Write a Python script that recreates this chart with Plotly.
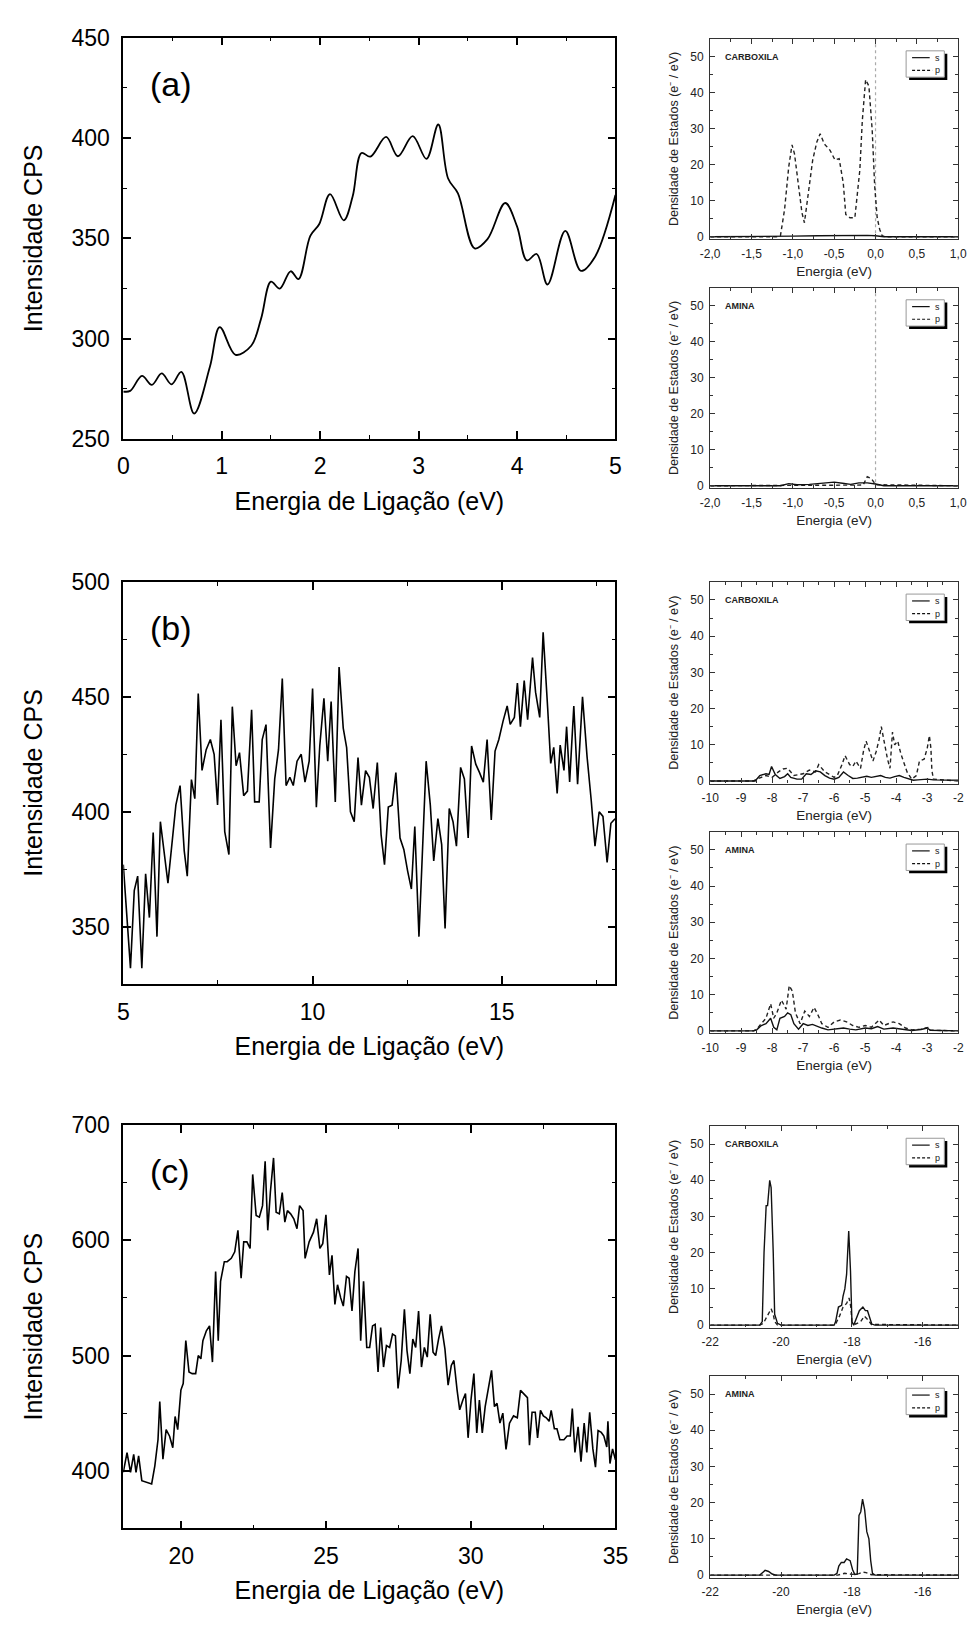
import numpy as np
import plotly.graph_objects as go

# ---------------- data: left panels (XPS intensity) ----------------
A_X = [0.0, 0.07, 0.19, 0.29, 0.39, 0.49, 0.59, 0.72, 0.88, 0.98, 1.14, 1.30, 1.40, 1.50, 1.59, 1.70,
       1.78, 1.90, 1.99, 2.10, 2.24, 2.33, 2.42, 2.51, 2.67, 2.79, 2.94, 3.08, 3.20, 3.30, 3.40, 3.57,
       3.70, 3.88, 4.00, 4.10, 4.20, 4.31, 4.49, 4.65, 4.79, 5.0]
A_Y = [273.7, 274, 281.5, 277, 282.7, 277.3, 283.5, 262.7, 286, 305.8, 292, 296.5, 310, 328.4, 325, 333.6,
       329.7, 351.2, 357, 372, 359, 370.8, 392.5, 390.7, 400.5, 390.9, 400.9, 389.6, 406.7, 379.8, 372.4, 345,
       349.6, 367.6, 356, 339, 342.2, 327, 353.7, 333.8, 340.6, 371.6]

B_X = [5.0, 5.19, 5.29, 5.38, 5.49, 5.59, 5.69, 5.79, 5.89, 5.98, 6.18, 6.39, 6.50, 6.61, 6.69, 6.80,
       6.89, 6.98, 7.08, 7.19, 7.30, 7.40, 7.49, 7.58, 7.68, 7.79, 7.88, 7.98, 8.07, 8.18, 8.28, 8.39,
       8.47, 8.59, 8.67, 8.77, 8.89, 9.00, 9.10, 9.20, 9.30, 9.40, 9.49, 9.59, 9.70,
       9.80, 9.91, 10.0, 10.10, 10.19, 10.30, 10.40, 10.49, 10.60, 10.70, 10.81, 10.90, 11.0, 11.10,
       11.20, 11.29, 11.40, 11.50, 11.60, 11.71, 11.81, 11.90, 12.0, 12.10, 12.20, 12.31, 12.41, 12.51,
       12.61, 12.70, 12.81, 13.0, 13.11, 13.20, 13.31, 13.41, 13.50, 13.61, 13.71, 13.80, 13.91, 14.01,
       14.11, 14.20, 14.31, 14.41, 14.51, 14.61, 14.72, 14.82, 14.92, 15.03,
       15.14, 15.22, 15.33, 15.41, 15.49, 15.59, 15.68, 15.81, 15.89, 16.0, 16.09, 16.21, 16.29, 16.37,
       16.46, 16.54, 16.64, 16.71, 16.79, 16.90, 17.0, 17.13, 17.25, 17.36, 17.46, 17.57, 17.67, 17.78,
       17.88, 17.99]
B_Y = [377, 332, 365.7, 372, 332, 373, 354, 391, 345.7, 395.7, 369, 403, 411.4, 383, 372, 414,
       405.7, 451.4, 418, 427, 431.4, 425, 403, 440, 391.4, 381.4, 445.7, 420, 425.7, 407, 409, 444.3,
       404.3, 404.3, 431.4, 437.9, 384.3, 414.3, 427, 457.9, 411.4, 415, 411.4, 422, 425,
       412.9, 422, 453.6, 402, 428.6, 449.3, 422, 447.9, 404.3, 462.9, 436.4, 427.9, 400, 395.7,
       423.6, 402.9, 417.9, 415, 401.4, 421.4, 390, 377, 402.1, 402.9, 417, 388.6, 383.6, 374.3,
       366.4, 393.6, 345.7, 422, 402.9, 378.6, 397, 385.7, 349.3, 401.4, 395.7, 385, 419.3, 414.3,
       388.6, 428.6, 420.7, 417, 412.9, 431.4, 396.4, 426.4, 431.4, 439.3,
       446, 438, 441, 456, 437, 457, 440, 467, 452, 441, 478, 445, 421, 428,
       408, 429, 418, 437, 413, 446, 412, 450, 424, 405, 385, 400, 398, 378,
       395, 397]

C_X = [18.00, 18.13, 18.25, 18.36, 18.44, 18.53, 18.64, 18.75, 18.87, 18.98, 19.09, 19.20, 19.26, 19.37,
       19.48, 19.60, 19.71, 19.79, 19.88, 19.99, 20.07, 20.16, 20.27, 20.38, 20.50, 20.59, 20.68, 20.75,
       20.87, 20.98, 21.08, 21.19, 21.28, 21.36, 21.49, 21.59, 21.73, 21.85, 21.96, 22.07, 22.16, 22.27,
       22.38, 22.47, 22.59, 22.70, 22.81, 22.90, 22.99, 23.08, 23.19, 23.28, 23.39, 23.49, 23.58, 23.67,
       23.78, 23.89, 24.00, 24.09, 24.21,
       24.28, 24.42, 24.57, 24.68, 24.79, 24.89, 25.0, 25.12, 25.21, 25.31, 25.40, 25.51, 25.60, 25.71,
       25.80, 25.90, 26.0, 26.11, 26.20, 26.30, 26.41, 26.51, 26.61, 26.70, 26.80, 26.89, 26.99, 27.09,
       27.20, 27.30, 27.40, 27.49, 27.60, 27.71, 27.80, 27.90, 28.0, 28.10, 28.20, 28.30, 28.40, 28.50,
       28.60, 28.70, 28.79, 28.89, 28.99, 29.11, 29.22, 29.33, 29.42, 29.53, 29.62, 29.73, 29.82, 29.91,
       30.01, 30.11, 30.21, 30.30, 30.40, 30.50, 30.61, 30.72, 30.82, 30.91, 31.01, 31.11, 31.22,
       31.34, 31.48, 31.61, 31.72, 31.85, 31.96, 32.03, 32.12, 32.23, 32.31, 32.41, 32.51, 32.61, 32.71,
       32.78, 32.89, 32.98, 33.08, 33.22, 33.33, 33.44, 33.51, 33.60, 33.71, 33.81, 33.92, 34.01, 34.11,
       34.22, 34.31, 34.40, 34.51, 34.60, 34.70, 34.74, 34.81, 34.90, 35.0]
C_Y = [398.6, 415.7, 398.6, 414.3, 398.6, 412.9, 391.4, 390.6, 390, 388.6, 404.3, 427.1, 460, 410,
       435.7, 430, 420, 447.1, 435.7, 470, 475.7, 512.9, 485.7, 484.3, 484.3, 500, 497.1, 512.9,
       521.4, 525.7, 494.3, 572.9, 512.9, 564.3, 581.4, 581.4, 584.3, 590, 608.6, 567.1, 598.6, 598.6,
       592.9, 657.1, 621.4, 620, 630, 668.6, 608.6, 641.4, 671.4, 624.3, 622.9, 641.4, 615.7, 625.7,
       622.9, 618.6, 610, 630, 625.7,
       584.3, 598.6, 607, 618.6, 592.9, 597, 622, 570, 587, 544.3, 561.4, 550, 542.9, 568.6,
       567, 538.6, 572.9, 592.9, 512.9, 564.3, 507, 507, 525.7, 527, 485.7, 524.3, 490, 508.6,
       507, 518.6, 517, 471.4, 495.7, 540, 504.3, 484.3, 514.3, 507, 538.6, 490, 507, 498.6,
       535.7, 502.9, 500, 514.3, 525.7, 505.7, 474.3, 491.4, 495.7, 470, 452.9, 461.4, 467.1, 428.6,
       461.4, 484.3, 432.9, 461.4, 432.9, 455.7, 472.9, 487.1, 455.7, 458.6, 441.4, 450, 418.6,
       441.3, 447.6, 446, 469.8, 466.7, 463.5, 422.2, 450.8, 450.8, 428.6, 452.4, 447.6, 446, 442.9,
       452.4, 436.5, 436.5, 427, 427, 430.2, 430.2, 454, 415.9, 438.1, 408, 441.3, 415.9, 450.8,
       419, 403.2, 434.9, 433.3, 430.2, 420.6, 442.9, 406.3, 419, 409.5]

# ---------------- data: right panels (density of states) ----------------
RA_C_P_X = [-2.0, -1.2, -1.15, -1.10, -1.05, -1.01, -0.98, -0.93, -0.89, -0.86, -0.81, -0.76, -0.71, -0.67,
            -0.62, -0.55, -0.49, -0.44, -0.39, -0.36, -0.31, -0.25, -0.19, -0.16, -0.12, -0.08, -0.04, -0.01,
            0.02, 0.05, 0.08, 0.12, 1.0]
RA_C_P_Y = [0, 0, 0.3, 7.6, 19.4, 25.5, 23, 13, 6.7, 3.9, 12.1, 21.3, 26.3, 28.6,
            25.8, 24, 21.3, 21.7, 14.9, 6.2, 5.3, 5.3, 18.5, 32.2, 43.6, 41.8, 29.5, 14,
            5.3, 2.1, 0.3, 0, 0]
RA_C_S_X = [-2.0, -1.2, -1.0, -0.7, -0.5, -0.3, -0.1, 0.0, 0.1, 1.0]
RA_C_S_Y = [0, 0, 0.2, 0.3, 0.4, 0.3, 0.4, 0.3, 0, 0]
RA_A_S_X = [-2.0, -1.15, -1.05, -0.95, -0.8, -0.6, -0.5, -0.4, -0.3, -0.2, -0.1, 0.0, 0.05, 0.1, 1.0]
RA_A_S_Y = [0, 0, 0.6, 0.3, 0.4, 0.8, 1.0, 0.7, 0.4, 0.8, 0.8, 0.5, 0.2, 0, 0]
RA_A_P_X = [-2.0, -0.15, -0.1, -0.05, 0.0, 1.0]
RA_A_P_Y = [0, 0.2, 2.5, 2.0, 0.3, 0]

RB_C_P_X = [-10, -8.6, -8.5, -8.2, -8.0, -7.8, -7.65, -7.5, -7.3, -7.0, -6.8, -6.6, -6.5, -6.3, -6.0, -5.9,
            -5.75, -5.65, -5.5, -5.4, -5.3, -5.15, -5.05, -4.97, -4.85, -4.75, -4.65, -4.55, -4.48, -4.38,
            -4.28, -4.2, -4.12, -4.05, -3.95, -3.85, -3.75, -3.65, -3.5, -3.35, -3.25, -3.1, -3.0, -2.93,
            -2.88, -2.85, -2.8, -2.0]
RB_C_P_Y = [0, 0, 0.5, 1.5, 1.0, 2.5, 3.3, 3.5, 1.5, 2.0, 3.0, 2.5, 4.5, 2.5, 1.0, 1.5,
            4.5, 7.0, 4.5, 4.0, 5.5, 3.5, 8.5, 11, 8, 5.5, 8, 11.5, 15, 10,
            6, 3.5, 13.5, 10, 11, 7.5, 5, 2.5, 0.5, 1.5, 5.5, 6, 9, 12.5,
            9, 3, 0.5, 0]
RB_C_S_X = [-10, -8.55, -8.4, -8.2, -8.1, -8.02, -7.9, -7.75, -7.6, -7.5, -7.4, -7.2, -7.05, -6.9, -6.75,
            -6.6, -6.45, -6.3, -6.15, -6.0, -5.85, -5.7, -5.55, -5.4, -5.25, -5.1, -4.95, -4.8, -4.65, -4.5,
            -4.35, -4.2, -4.05, -3.9, -3.75, -3.6, -3.45, -3.3, -3.0, -2.8, -2.0]
RB_C_S_Y = [0, 0, 1.5, 2.0, 1.8, 4.0, 1.8, 0.7, 1.2, 2.0, 1.0, 0.5, 0.5, 2.0, 1.8,
            2.8, 2.5, 1.5, 0.8, 0.5, 1.0, 2.5, 1.5, 0.7, 0.8, 1.0, 1.3, 1.0, 1.2, 1.5,
            1.0, 0.8, 1.2, 1.5, 1.0, 0.5, 0.2, 0.3, 0.5, 0.3, 0.2]
RB_A_P_X = [-10, -8.6, -8.5, -8.35, -8.2, -8.05, -7.95, -7.85, -7.7, -7.55, -7.45, -7.35, -7.25, -7.1,
            -6.95, -6.8, -6.65, -6.5, -6.4, -6.2, -6.0, -5.8, -5.6, -5.4, -5.2, -5.0, -4.8, -4.55, -4.4,
            -4.1, -3.9, -3.7, -3.5, -3.2, -2.95, -2.9, -2.0]
RB_A_P_Y = [0, 0, 0.5, 2, 3.5, 7.5, 3.5, 5, 8.5, 6, 12.5, 11, 5, 2,
            5.5, 4, 6.5, 4, 2, 1, 2.5, 3, 2.5, 1.5, 1, 1.5, 1, 3, 1.5,
            2.5, 2, 0.8, 0.3, 0.5, 1, 0.2, 0]
RB_A_S_X = [-10, -8.6, -8.5, -8.35, -8.2, -8.05, -7.95, -7.85, -7.75, -7.6, -7.5, -7.4, -7.3, -7.15, -7.0,
            -6.85, -6.7, -6.55, -6.4, -6.2, -6.0, -5.7, -5.5, -5.3, -5.0, -4.8, -4.6, -4.4, -4.1, -3.8,
            -3.5, -3.2, -3.0, -2.9, -2.0]
RB_A_S_Y = [0, 0, 0.3, 1.5, 2, 3.5, 1, 0.3, 3.5, 4, 5, 4.5, 2, 0.5, 2,
            1.5, 1.8, 1.2, 0.8, 0.3, 0.5, 0.8, 0.5, 0.3, 0.8, 0.6, 1.2, 0.5, 0.8, 0.5,
            0.1, 0.4, 0.8, 0.2, 0]

RC_C_S_X = [-22, -20.6, -20.53, -20.48, -20.42, -20.38, -20.32, -20.28, -20.22, -20.18, -20.1, -20.0,
            -18.5, -18.46, -18.38, -18.29, -18.25, -18.2, -18.15, -18.09, -18.04, -18.0, -17.95, -17.88,
            -17.79, -17.69, -17.62, -17.56, -17.49, -17.44, -17.35, -15]
RC_C_S_Y = [0, 0, 1, 20, 33, 33, 40, 38, 20, 3, 0.5, 0,
            0, 1, 5, 5.5, 8, 10, 14, 26, 15, 1, 0, 2,
            4, 5, 4, 4, 2, 0.3, 0, 0]
RC_C_P_X = [-22, -20.6, -20.5, -20.42, -20.35, -20.28, -20.22, -20.18, -20.1, -18.5, -18.45, -18.35,
            -18.25, -18.15, -18.08, -18.03, -18.0, -17.9, -17.75, -17.65, -17.55, -17.45, -15]
RC_C_P_Y = [0, 0, 0.5, 2, 3.5, 4.5, 3, 1, 0, 0, 0.5, 2.5,
            5, 6, 7.5, 5, 1, 0.3, 1, 2.5, 1.5, 0.2, 0]
RC_A_S_X = [-22, -20.6, -20.45, -20.35, -20.25, -20.15, -18.5, -18.42, -18.37, -18.3, -18.22, -18.15,
            -18.05, -17.98, -17.92, -17.85, -17.8, -17.75, -17.7, -17.64, -17.58, -17.52, -17.47, -17.42,
            -17.35, -15]
RC_A_S_Y = [0, 0, 1.3, 1.0, 0.3, 0, 0, 0.5, 2.5, 3.5, 3.5, 4.5,
            4, 1.5, 0.2, 0.3, 16.5, 17.5, 21, 18, 12, 10, 4, 0.5,
            0, 0]
RC_A_P_X = [-22, -18.4, -18.2, -18.0, -17.8, -17.7, -17.6, -17.45, -15]
RC_A_P_Y = [0, 0, 0.5, 0.2, 0.4, 0.8, 0.7, 0.1, 0]

# tick labels (decimal comma, hyphen minus as in the original)
RA_XTICK_VALS = [-2.0, -1.5, -1.0, -0.5, 0.0, 0.5, 1.0]
RA_XTICK_TEXT = ["-2,0", "-1,5", "-1,0", "-0,5", "0,0", "0,5", "1,0"]
RB_XTICK_VALS = [-10, -9, -8, -7, -6, -5, -4, -3, -2]
RB_XTICK_TEXT = ["-10", "-9", "-8", "-7", "-6", "-5", "-4", "-3", "-2"]
RC_XTICK_VALS = [-22, -20, -18, -16]
RC_XTICK_TEXT = ["-22", "-20", "-18", "-16"]
R_YTICK_VALS = [0, 10, 20, 30, 40, 50]
R_YTICK_TEXT = ["0", "10", "20", "30", "40", "50"]

PANEL_LETTERS = ["(a)", "(b)", "(c)"]
GROUP_NAMES = ["CARBOXILA", "AMINA"]

FONT = "Liberation Sans, Arial, Helvetica, sans-serif"
W, H = 980, 1630

fig = go.Figure()


def ax_id(n):
    return "" if n == 1 else str(n)


def add_line(x, y, n, name, dash=None, shape="linear", width=1.5, color="black"):
    fig.add_trace(go.Scatter(
        x=x, y=y, mode="lines", name=name, xaxis="x" + ax_id(n), yaxis="y" + ax_id(n),
        line=dict(color=color, width=width, dash=dash, shape=shape),
        showlegend=False, hoverinfo="skip"))


# left panels
add_line(A_X, A_Y, 1, "(a)", shape="spline", width=1.8)
add_line(B_X, B_Y, 2, "(b)", width=1.6)
add_line(C_X, C_Y, 3, "(c)", width=1.6)

# right panels : s solid, p dashed
DASH = "4px,3px"
right_sets = [
    (4, RA_C_S_X, RA_C_S_Y, RA_C_P_X, RA_C_P_Y),
    (5, RA_A_S_X, RA_A_S_Y, RA_A_P_X, RA_A_P_Y),
    (6, RB_C_S_X, RB_C_S_Y, RB_C_P_X, RB_C_P_Y),
    (7, RB_A_S_X, RB_A_S_Y, RB_A_P_X, RB_A_P_Y),
    (8, RC_C_S_X, RC_C_S_Y, RC_C_P_X, RC_C_P_Y),
    (9, RC_A_S_X, RC_A_S_Y, RC_A_P_X, RC_A_P_Y),
]
for n, sx, sy, px, py_ in right_sets:
    add_line(px, py_, n, "p", dash=DASH, width=1.4, color="#222222")
    add_line(sx, sy, n, "s", width=1.4, color="#111111")


def py(top, bottom):
    return [1 - bottom / H, 1 - top / H]


LEFT_XD = [116 / W, 620 / W]
RIGHT_XD = [717 / W, 971 / W]
left_yd = [py(25, 433), py(578, 987), py(1130, 1540)]
right_yd = [py(26, 230), py(279, 483), py(578, 783), py(832, 1037), py(1131, 1336), py(1385, 1590)]

left_cfg = [
    dict(xr=[0, 5], xd=1, xm=0.5, yr=[250, 450], yd=50, ym=25),
    dict(xr=[5, 18], xd=5, xm=2.5, yr=[325, 500], yd=50, ym=25),
    dict(xr=[18, 35], xd=5, xm=2.5, yr=[350, 700], yd=100, ym=50),
]

layout = dict(width=W, height=H, margin=dict(l=0, r=0, t=0, b=0),
              paper_bgcolor="white", plot_bgcolor="white",
              font=dict(family=FONT, color="black"))

tickfont_L = dict(family=FONT, size=23, color="black")
titlefont_L = dict(family=FONT, size=25, color="black")

for i, cfg in enumerate(left_cfg):
    n = i + 1
    common = dict(showline=True, linecolor="black", linewidth=1.6, mirror="allticks",
                  ticks="inside", ticklen=8, tickwidth=1.5, tickcolor="black",
                  showgrid=False, zeroline=False, tickfont=tickfont_L)
    layout["xaxis" + ax_id(n)] = dict(
        common, domain=LEFT_XD, anchor="y" + ax_id(n), range=cfg["xr"],
        tickmode="linear", tick0=0, dtick=cfg["xd"], ticklabelstandoff=6,
        minor=dict(dtick=cfg["xm"], ticks="inside", ticklen=4, tickwidth=1.3, tickcolor="black"),
        title=dict(text="Energia de Ligação (eV)", font=titlefont_L, standoff=14))
    layout["yaxis" + ax_id(n)] = dict(
        common, domain=left_yd[i], anchor="x" + ax_id(n), range=cfg["yr"],
        tickmode="linear", tick0=0, dtick=cfg["yd"], ticklabelstandoff=7,
        minor=dict(dtick=cfg["ym"], ticks="inside", ticklen=4, tickwidth=1.3, tickcolor="black"),
        title=dict(text="Intensidade CPS", font=titlefont_L, standoff=22))

right_x = [
    (RA_XTICK_VALS, RA_XTICK_TEXT, [-2, 1], 0.25),
    (RB_XTICK_VALS, RB_XTICK_TEXT, [-10, -2], 0.5),
    (RC_XTICK_VALS, RC_XTICK_TEXT, [-22, -15], 1.0),
]
tickfont_R = dict(family=FONT, size=12, color="#222222")
for j in range(6):
    n = j + 4
    vals, text, xr, mstep = right_x[j // 2]
    minor_x = list(np.arange(xr[0], xr[1] + 1e-9, mstep))
    common = dict(showline=True, linecolor="#333333", linewidth=1.4, mirror="allticks",
                  ticks="inside", ticklen=5, tickwidth=1.1, tickcolor="#333333",
                  showgrid=False, zeroline=False, tickfont=tickfont_R)
    layout["xaxis" + ax_id(n)] = dict(
        common, domain=RIGHT_XD, anchor="y" + ax_id(n), range=xr,
        tickmode="array", tickvals=vals, ticktext=text, ticklabelstandoff=3,
        minor=dict(tickmode="array", tickvals=minor_x, ticks="inside", ticklen=3,
                   tickwidth=1, tickcolor="#333333"),
        title=dict(text="Energia (eV)", font=dict(family=FONT, size=13.5, color="#222222"), standoff=6))
    layout["yaxis" + ax_id(n)] = dict(
        common, domain=right_yd[j], anchor="x" + ax_id(n), range=[-0.7, 55],
        tickmode="array", tickvals=R_YTICK_VALS, ticktext=R_YTICK_TEXT, ticklabelstandoff=3,
        minor=dict(tickmode="array", tickvals=list(np.arange(5, 55, 10)), ticks="inside",
                   ticklen=3, tickwidth=1, tickcolor="#333333"),
        title=dict(text="Densidade de Estados (e\u207b / eV)",
                   font=dict(family=FONT, size=12.5, color="#222222"), standoff=8))

fig.update_layout(**layout)

annotations = []
shapes = []
for i, letter in enumerate(PANEL_LETTERS):
    n = ax_id(i + 1)
    annotations.append(dict(text=letter, xref="x%s domain" % n, yref="y%s domain" % n,
                            x=0.05, y=0.885, xanchor="left", yanchor="middle", showarrow=False,
                            font=dict(family=FONT, size=34, color="black")))

for j in range(6):
    n = ax_id(j + 4)
    xr, yr = "x%s domain" % n, "y%s domain" % n
    annotations.append(dict(text="<b>%s</b>" % GROUP_NAMES[j % 2], xref=xr, yref=yr, x=0.05, y=0.91,
                            xanchor="left", yanchor="middle", showarrow=False,
                            font=dict(family=FONT, size=9, color="#222222")))
    # legend box with drop shadow
    shapes.append(dict(type="rect", xref=xr, yref=yr, x0=0.802, x1=0.956, y0=0.794, y1=0.925,
                       fillcolor="black", line=dict(width=0), layer="above"))
    shapes.append(dict(type="rect", xref=xr, yref=yr, x0=0.79, x1=0.944, y0=0.808, y1=0.939,
                       fillcolor="white", line=dict(color="#999999", width=1), layer="above"))
    shapes.append(dict(type="line", xref=xr, yref=yr, x0=0.814, x1=0.885, y0=0.905, y1=0.905,
                       line=dict(color="#111111", width=1.2), layer="above"))
    shapes.append(dict(type="line", xref=xr, yref=yr, x0=0.814, x1=0.895, y0=0.842, y1=0.842,
                       line=dict(color="#111111", width=1.2, dash="3px,2px"), layer="above"))
    annotations.append(dict(text="s", xref=xr, yref=yr, x=0.9, y=0.905, xanchor="left",
                            yanchor="middle", showarrow=False,
                            font=dict(family=FONT, size=9, color="#222222")))
    annotations.append(dict(text="p", xref=xr, yref=yr, x=0.9, y=0.842, xanchor="left",
                            yanchor="middle", showarrow=False,
                            font=dict(family=FONT, size=9, color="#222222")))

# Fermi level marker in the top-right panels
for n in ("4", "5"):
    shapes.append(dict(type="line", xref="x" + n, yref="y%s domain" % n, x0=0, x1=0, y0=0, y1=1,
                       line=dict(color="#aaaaaa", width=1.2, dash="dot"), layer="below"))

fig.update_layout(annotations=annotations, shapes=shapes)
fig.write_html("out.html")
